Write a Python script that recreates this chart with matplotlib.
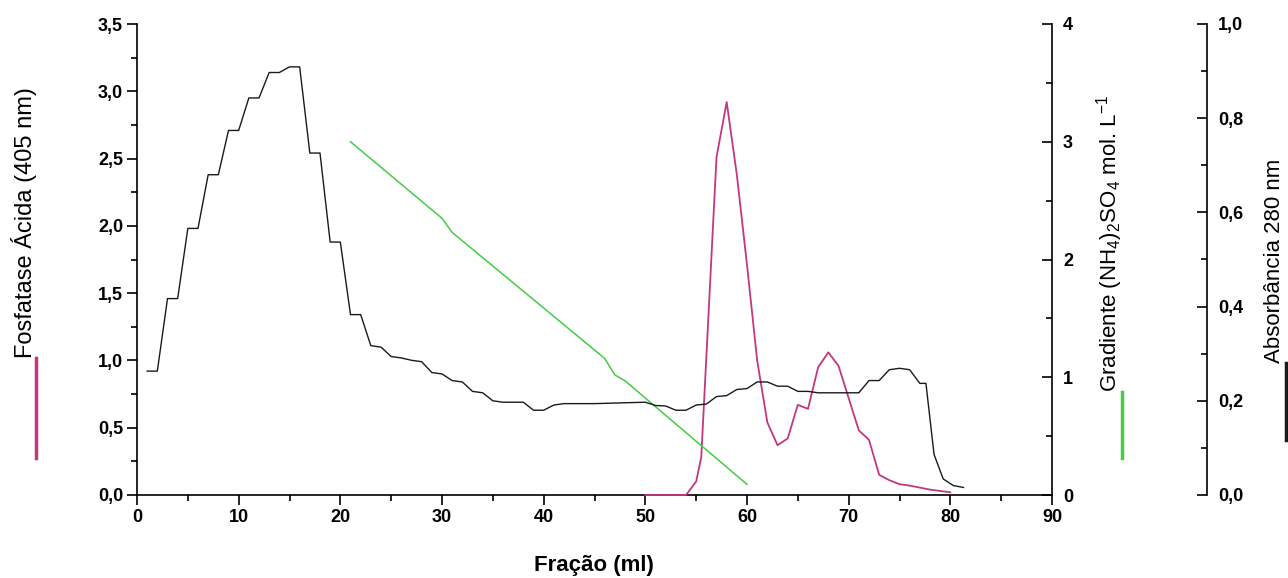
import matplotlib
matplotlib.use('Agg')
import matplotlib.pyplot as plt
from matplotlib.lines import Line2D
from matplotlib.ticker import MultipleLocator, FuncFormatter

plt.rcParams['font.family'] = ['Liberation Sans', 'DejaVu Sans']
plt.rcParams['mathtext.default'] = 'regular'

# Absorbancia 280 nm (black, right outer axis 0-1)
abs_x = [1, 2, 3, 4, 5, 6, 7, 8, 9, 10, 11, 12, 13, 14, 15, 16, 17, 18, 19, 20,
         21, 22, 23, 24, 25, 26, 27, 28, 29, 30, 31, 32, 33, 34, 35, 36, 37, 38, 39, 40,
         41, 42, 43, 45, 50, 51, 52, 53, 54, 55, 56, 57, 58, 59, 60, 61, 62, 63, 64, 65,
         66, 67, 71, 72, 73, 74, 75, 76, 77, 77.6, 78.4, 79.3, 80.3, 81.3]
abs_y = [0.263, 0.263, 0.417, 0.417, 0.566, 0.566, 0.680, 0.680, 0.774, 0.774,
         0.843, 0.843, 0.897, 0.897, 0.909, 0.909, 0.726, 0.726, 0.537, 0.537,
         0.383, 0.383, 0.317, 0.314, 0.294, 0.291, 0.286, 0.283, 0.260, 0.257,
         0.243, 0.240, 0.220, 0.217, 0.200, 0.197, 0.197, 0.197, 0.180, 0.180,
         0.191, 0.194, 0.194, 0.194, 0.197, 0.190, 0.189, 0.180, 0.180, 0.191,
         0.193, 0.209, 0.211, 0.224, 0.226, 0.240, 0.240, 0.231, 0.231, 0.220,
         0.220, 0.217, 0.217, 0.243, 0.243, 0.266, 0.269, 0.266, 0.237, 0.237,
         0.086, 0.034, 0.020, 0.016]

# Fosfatase acida 405 nm (pink, left axis)
fos_x = [50, 54, 55, 55.5, 57, 58, 59, 60, 61, 62, 63, 64, 65, 66, 67, 68, 69,
         70, 71, 72, 73, 74, 75, 76, 77, 78, 79, 80]
fos_y = [0.0, 0.0, 0.10, 0.28, 2.51, 2.92, 2.38, 1.71, 1.00, 0.54, 0.37, 0.42,
         0.67, 0.64, 0.95, 1.06, 0.96, 0.72, 0.48, 0.41, 0.15, 0.11, 0.08, 0.07,
         0.055, 0.04, 0.03, 0.02]

# Gradiente (NH4)2SO4 (green, right axis 0-4)
grad_x = [21, 30, 31, 46, 47, 48, 60]
grad_y = [3.00, 2.35, 2.23, 1.16, 1.02, 0.97, 0.09]

pink = '#c4367f'
green = '#45cc45'
black = '#1a1a1a'


def comma(v, pos):
    return f'{v:.1f}'.replace('.', ',')


fig = plt.figure(figsize=(12.88, 5.78), dpi=100)
ax = fig.add_axes([137 / 1288, 83 / 578, 915 / 1288, 471 / 578])
ax.set_xlim(0, 90)
ax.set_ylim(0, 3.5)
ax.spines['top'].set_visible(False)
ax.spines['right'].set_visible(False)
ax.xaxis.set_major_locator(MultipleLocator(10))
ax.xaxis.set_minor_locator(MultipleLocator(5))
ax.yaxis.set_major_locator(MultipleLocator(0.5))
ax.yaxis.set_minor_locator(MultipleLocator(0.25))
ax.yaxis.set_major_formatter(FuncFormatter(comma))
ax.tick_params(which='major', length=7, width=1.2, labelsize=13, pad=3)
ax.tick_params(which='minor', length=4, width=1.2)

# gradient axis
ax2 = ax.twinx()
ax2.set_ylim(0, 4)
for s in ['top', 'left', 'bottom']:
    ax2.spines[s].set_visible(False)
ax2.yaxis.set_major_locator(MultipleLocator(1))
ax2.yaxis.set_minor_locator(MultipleLocator(0.5))
ax2.tick_params(which='major', direction='in', length=7, width=1.2, labelsize=13, pad=8)
ax2.tick_params(which='minor', direction='in', length=4, width=1.2)

# absorbance axis
ax3 = ax.twinx()
ax3.spines['right'].set_position(('axes', (1207 - 137) / 915))
ax3.set_ylim(0, 1.0)
for s in ['top', 'left', 'bottom']:
    ax3.spines[s].set_visible(False)
ax3.yaxis.set_major_locator(MultipleLocator(0.2))
ax3.yaxis.set_minor_locator(MultipleLocator(0.1))
ax3.yaxis.set_major_formatter(FuncFormatter(comma))
ax3.tick_params(which='major', direction='in', length=7, width=1.2, labelsize=13, pad=8)
ax3.tick_params(which='minor', direction='in', length=4, width=1.2)

for a in (ax, ax2, ax3):
    for s in a.spines.values():
        s.set_linewidth(1.2)
    for lbl in a.get_xticklabels() + a.get_yticklabels():
        lbl.set_fontweight('bold')

ax.plot(fos_x, fos_y, color=pink, lw=1.3, clip_on=False, zorder=3)
ax2.plot(grad_x, grad_y, color=green, lw=1.1)
ax3.plot(abs_x, abs_y, color=black, lw=1.0)

fig.text(594 / 1288, 1 - 565 / 578, 'Fração (ml)', ha='center', va='center',
         fontsize=16, fontweight='bold')

# axis titles with line samples
fig.text(24 / 1288, 1 - 358 / 578, 'Fosfatase Ácida (405 nm)', rotation=90,
         ha='center', va='bottom', fontsize=17)
fig.add_artist(Line2D([36 / 1288, 36 / 1288], [1 - 358 / 578, 1 - 458 / 578],
                      color=pink, lw=2.5, transform=fig.transFigure))

fig.text(1110 / 1288, 1 - 392 / 578, r'Gradiente (NH$_4$)$_2$SO$_4$ mol. L$^{-1}$',
         rotation=90, ha='center', va='bottom', fontsize=16)
fig.add_artist(Line2D([1122 / 1288, 1122 / 1288], [1 - 392 / 578, 1 - 458 / 578],
                      color=green, lw=2.5, transform=fig.transFigure))

fig.text(1274 / 1288, 1 - 363 / 578, 'Absorbância 280 nm', rotation=90,
         ha='center', va='bottom', fontsize=16)
fig.add_artist(Line2D([1286 / 1288, 1286 / 1288], [1 - 363 / 578, 1 - 440 / 578],
                      color=black, lw=2.5, transform=fig.transFigure))

fig.savefig('out.png', dpi=100)
